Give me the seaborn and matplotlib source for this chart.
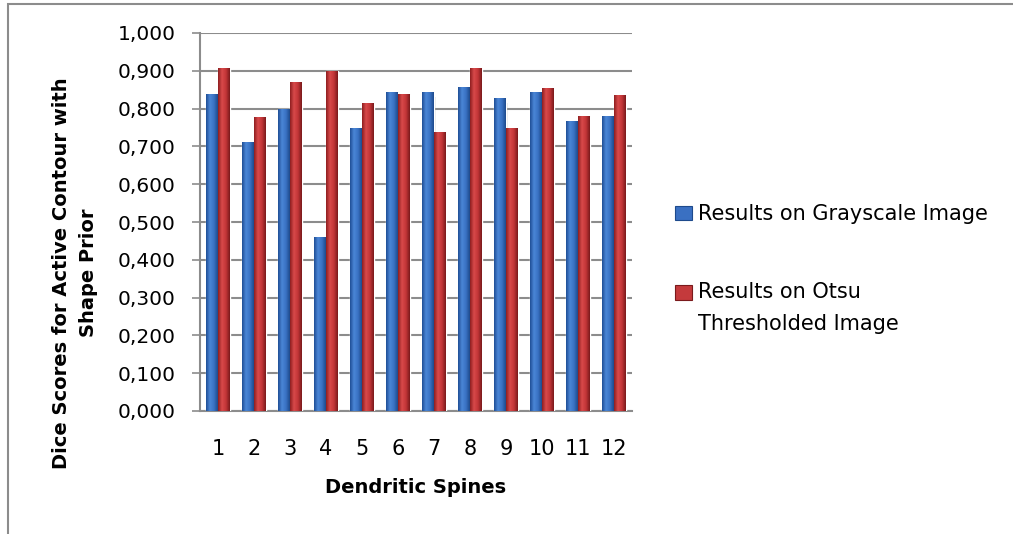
import numpy as np
import pandas as pd
import matplotlib
matplotlib.use("Agg")
import matplotlib.pyplot as plt
import seaborn as sns
from matplotlib.colors import LinearSegmentedColormap
from matplotlib.patches import Rectangle
from matplotlib.legend_handler import HandlerPatch
from matplotlib.ticker import FuncFormatter

categories = ["1", "2", "3", "4", "5", "6", "7", "8", "9", "10", "11", "12"]
grayscale = [0.839, 0.711, 0.798, 0.460, 0.749, 0.844, 0.844, 0.857, 0.827, 0.844, 0.767, 0.780]
otsu = [0.907, 0.778, 0.870, 0.899, 0.815, 0.839, 0.738, 0.907, 0.749, 0.854, 0.780, 0.836]
series_names = ["Results on Grayscale Image", "Results on Otsu\nThresholded Image"]

df = pd.DataFrame({
    "cat": categories * 2,
    "val": grayscale + otsu,
    "series": [series_names[0]] * 12 + [series_names[1]] * 12,
})

sns.set_theme(style="white")
plt.rcParams["font.family"] = ["DejaVu Sans"]

fig = plt.figure(figsize=(10.13, 5.34), dpi=100)
ax = fig.add_axes([200 / 1013, 123 / 534, 432 / 1013, 378 / 534])

colors = ["#3366B8", "#BE3234"]
sns.barplot(data=df, x="cat", y="val", hue="series", palette=colors, ax=ax,
            width=0.64, gap=0, legend=True, zorder=3, saturation=1)

# cylinder-like shading
cmaps = [
    LinearSegmentedColormap.from_list("b", ["#1F4E96", "#4A86D6", "#3A72C4", "#1E4A8C"]),
    LinearSegmentedColormap.from_list("r", ["#8E1E20", "#D8494A", "#C23537", "#7A1A1C"]),
]
grad = np.linspace(0, 1, 64).reshape(1, -1)
for p in list(ax.patches):
    fc = p.get_facecolor()
    idx = 0 if fc[2] > fc[0] else 1
    x0, y0 = p.get_x(), p.get_y()
    w, h = p.get_width(), p.get_height()
    if h <= 0:
        continue
    im = ax.imshow(grad, cmap=cmaps[idx], aspect="auto",
                   extent=(x0, x0 + w, y0, y0 + h), zorder=4, origin="lower")
    im.set_clip_path(p)
    ax.add_patch(Rectangle((x0 + w, y0), w * 0.14, h * 0.985, color="#000000",
                           alpha=0.08, zorder=2, lw=0))

ax.set_xlim(-0.5, 11.5)
ax.set_ylim(0, 1.0)
ax.set_yticks(np.arange(0, 1.01, 0.1))
ax.yaxis.set_major_formatter(FuncFormatter(lambda v, pos: f"{v:.3f}".replace(".", ",")))
ax.grid(axis="y", color="#8C8C8C", linewidth=1.5, zorder=0)
ax.set_axisbelow(True)
for s in ["top", "right"]:
    ax.spines[s].set_visible(False)
for s in ["left", "bottom"]:
    ax.spines[s].set_color("#8C8C8C")
    ax.spines[s].set_linewidth(1.5)
ax.tick_params(axis="y", which="major", left=True, length=5.5, width=1.2, color="#8C8C8C",
               labelsize=14.5, pad=12, labelcolor="black")
ax.tick_params(axis="x", which="major", bottom=False, labelsize=15, pad=14, labelcolor="black")

ax.set_xlabel("Dendritic Spines", fontsize=14, fontweight="bold", color="black")
ax.xaxis.set_label_coords(0.5, -0.178)
ax.set_ylabel("Dice Scores for Active Contour with\nShape Prior", fontsize=14,
              fontweight="bold", color="black", linespacing=1.55)
ax.yaxis.set_label_coords(-0.236, 0.365)


def shifted_patch(legend, orig_handle, xdescent, ydescent, width, height, fontsize):
    lines = orig_handle.get_label().count("\n")
    shift = 0.8 * fontsize * lines
    return Rectangle((-xdescent, -ydescent + shift), width, height)


handles, labels = ax.get_legend_handles_labels()
leg = ax.legend(handles, labels, loc="upper left", bbox_to_anchor=(1.055, 0.597),
                frameon=False, fontsize=15, handlelength=0.82, handleheight=0.68,
                labelspacing=2.8, handletextpad=0.3, labelcolor="black",
                handler_map={h: HandlerPatch(patch_func=shifted_patch) for h in handles})
for t in leg.get_texts():
    t.set_linespacing(1.75)
for h, c in zip(leg.legend_handles, ["#3A70C2", "#C43A3C"]):
    h.set_facecolor(c)
    h.set_edgecolor("#1E4A8C" if c.startswith("#3") else "#7A1A1C")
    h.set_linewidth(0.8)

fig.add_artist(Rectangle((8 / 1013, -0.05), 1.2, 1.05 - 4 / 534, transform=fig.transFigure,
                         fill=False, edgecolor="#8C8C8C", linewidth=1.5))

fig.savefig("out.png", dpi=100)
